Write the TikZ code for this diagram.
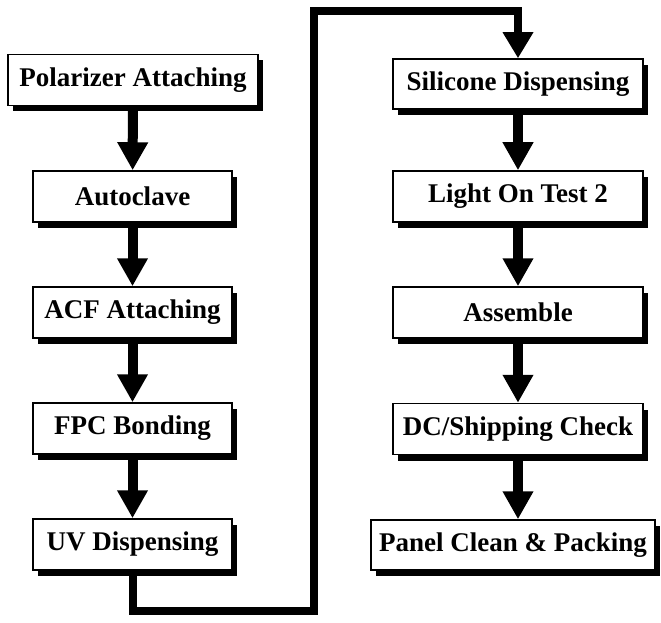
\documentclass[tikz,border=0pt]{standalone}
\usepackage{fontspec}
\setmainfont{Liberation Serif}
\usetikzlibrary{arrows.meta,shadows}
\begin{document}
\begin{tikzpicture}[x=1pt,y=-1pt,
  stepbox/.style={draw=black,line width=1.5pt,fill=white,rectangle,inner sep=0pt,
    minimum height=51pt,font=\fontsize{27}{30}\selectfont\bfseries,
    drop shadow={shadow xshift=5pt,shadow yshift=-6pt,opacity=1,fill=black}},
  flow/.style={line width=10pt,-{Triangle[width=29pt,length=28pt]}},
  loopline/.style={line width=8pt,line join=miter,-{Triangle[width=29pt,length=26pt]}}]
\useasboundingbox (0,0) rectangle (661,623);
\node[stepbox,minimum width=250pt] (p1) at (133,80) {Polarizer Attaching};
\node[stepbox,minimum width=199pt] (p2) at (132.5,196.5) {Autoclave};
\node[stepbox,minimum width=199pt] (p3) at (132.5,312.5) {ACF Attaching};
\node[stepbox,minimum width=199pt] (p4) at (132.5,428.5) {FPC Bonding};
\node[stepbox,minimum width=199pt] (p5) at (132.5,544.5) {UV Dispensing};
\node[stepbox,minimum width=250pt,minimum height=50pt] (q1) at (518,84) {Silicone Dispensing};
\node[stepbox,minimum width=250pt] (q2) at (518,196.5) {Light On Test 2};
\node[stepbox,minimum width=250pt] (q3) at (518,312.5) {Assemble};
\node[stepbox,minimum width=250pt] (q4) at (518,429) {DC/Shipping Check};
\node[stepbox,minimum width=284pt,minimum height=50pt] (q5) at (513,545) {Panel Clean \& Packing};
\coordinate (c1) at (133,611);
\coordinate (c2) at (314,611);
\coordinate (c3) at (314,11);
\coordinate (c4) at (518,11);
\draw[flow] (p1) -- (p2);
\draw[flow] (p2) -- (p3);
\draw[flow] (p3) -- (p4);
\draw[flow] (p4) -- (p5);
\draw[loopline] (p5.south -| c1) -- (c1) -- (c2) -- (c3) -- (c4) -- (q1.north);
\draw[flow] (q1) -- (q2);
\draw[flow] (q2) -- (q3);
\draw[flow] (q3) -- (q4);
\draw[flow] (q4.south) -- (q4.south |- q5.north);
\end{tikzpicture}
\end{document}
